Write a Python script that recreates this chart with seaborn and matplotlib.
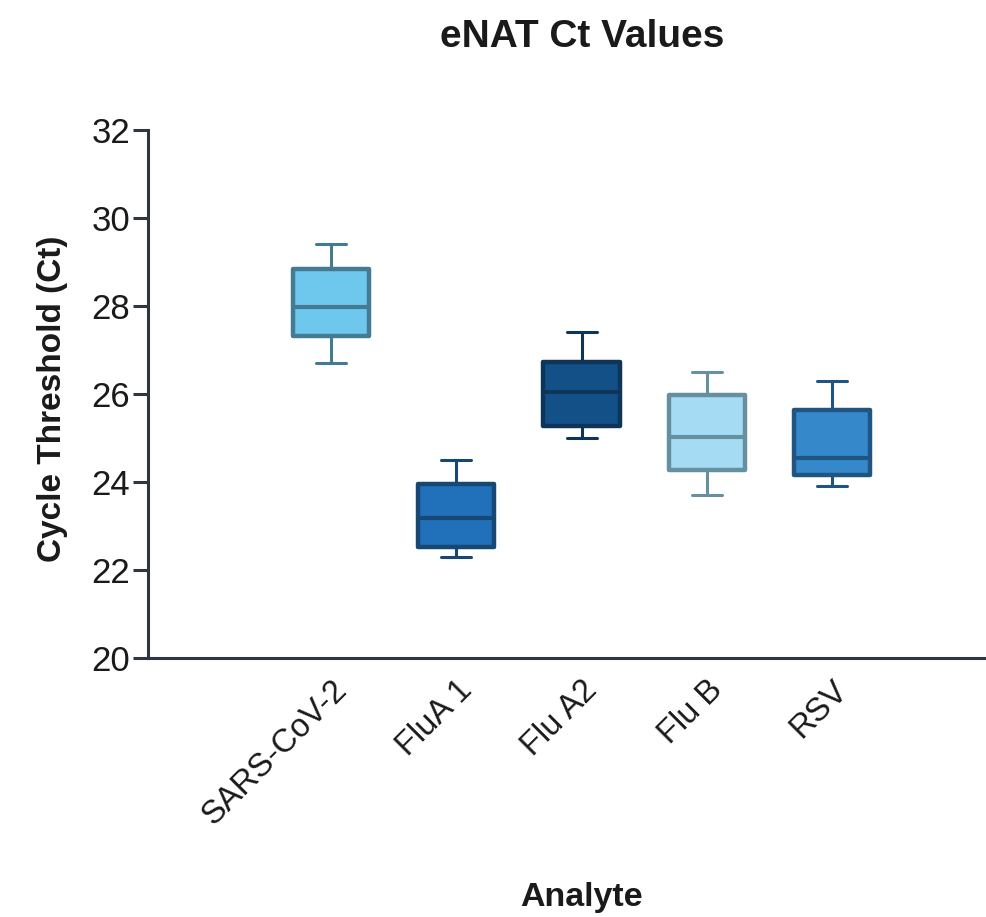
import numpy as np
import pandas as pd
import matplotlib
matplotlib.use("Agg")
import matplotlib.pyplot as plt
import seaborn as sns

analytes = ["SARS-CoV-2", "FluA 1", "Flu A2", "Flu B", "RSV"]
# five-number summaries: min, Q1, median, Q3, max
ct_min = [26.7, 22.3, 25.0, 23.7, 23.9]
ct_q1 = [27.32, 22.52, 25.28, 24.27, 24.17]
ct_median = [27.98, 23.18, 26.05, 25.03, 24.55]
ct_q3 = [28.84, 23.95, 26.72, 25.97, 25.63]
ct_max = [29.4, 24.5, 27.4, 26.5, 26.3]

fill_colors = ["#6EC8EE", "#2070BA", "#145088", "#A5DCF4", "#3589CB"]
edge_colors = ["#457A93", "#164873", "#0E3558", "#66909F", "#1F5580"]

rows = []
for i, a in enumerate(analytes):
    for v in (ct_min[i], ct_q1[i], ct_median[i], ct_q3[i], ct_max[i]):
        rows.append({"Analyte": a, "Ct": v})
df = pd.DataFrame(rows)

sns.set_theme(style="ticks")
plt.rcParams["font.family"] = ["Liberation Sans", "DejaVu Sans"]

fig = plt.figure(figsize=(9.87, 9.17), dpi=100)
ax = fig.add_axes([148 / 987, 1 - 658 / 917, (985 - 148) / 987, (658 - 130) / 917])

sns.boxplot(data=df, x="Analyte", y="Ct", hue="Analyte", order=analytes,
            hue_order=analytes, palette=fill_colors, saturation=1,
            width=0.61, whis=(0, 100), dodge=False, legend=False,
            linewidth=3, ax=ax)

for cont, ec in zip(ax.containers, edge_colors):
    for b in cont.boxes:
        b.set_edgecolor(ec)
        b.set_linewidth(3.2)
        b.set_joinstyle("round")
    for ln in list(cont.whiskers) + list(cont.caps):
        ln.set_color(ec)
        ln.set_linewidth(2.2)
    for ln in cont.medians:
        ln.set_color(ec)
        ln.set_linewidth(3.0)
    for ln in cont.caps:
        xd = np.asarray(ln.get_xdata(), dtype=float)
        c = xd.mean()
        ln.set_xdata(c + (xd - c) * (0.24 / (xd.max() - xd.min())))

ax.set_ylim(20, 32)
ax.set_yticks([20, 22, 24, 26, 28, 30, 32])
ax.set_xlim(-1.46, 5.22)

spine_color = "#2E3640"
for s in ["top", "right"]:
    ax.spines[s].set_visible(False)
for s in ["left", "bottom"]:
    ax.spines[s].set_linewidth(2.2)
    ax.spines[s].set_color(spine_color)

text_color = "#1a1a1a"
ax.tick_params(axis="y", direction="out", length=11, width=2.2,
               color=spine_color, labelsize=25, labelcolor=text_color, pad=2)
ax.tick_params(axis="x", length=0, labelsize=23.5, labelcolor=text_color, pad=12)
for lab in ax.get_xticklabels():
    lab.set_rotation(45)
    lab.set_ha("right")
    lab.set_rotation_mode("anchor")

ax.set_xlabel("Analyte", fontsize=24.5, fontweight="bold", color=text_color)
ax.xaxis.set_label_coords(0.518, -0.425)
ax.set_ylabel("Cycle Threshold (Ct)", fontsize=24, fontweight="bold", color=text_color)
ax.yaxis.set_label_coords(-0.096, 0.49)
fig.text(582 / 987, 1 - 37 / 917, "eNAT Ct Values", fontsize=28,
         fontweight="bold", ha="center", va="center", color=text_color)

fig.savefig("out.png", dpi=100, facecolor="white")
